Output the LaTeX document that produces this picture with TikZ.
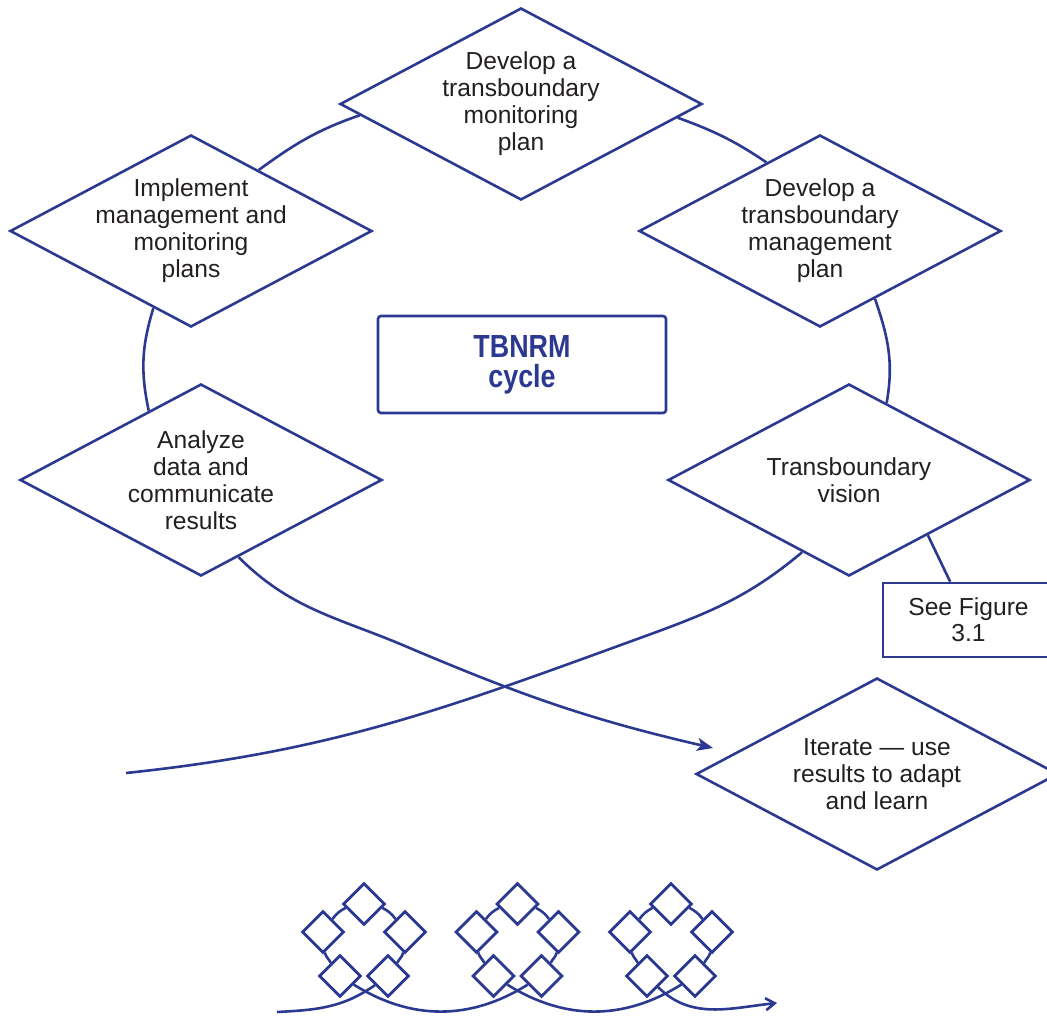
\documentclass[tikz,border=0pt]{standalone}
\usepackage{fontspec}
\setmainfont{Liberation Sans}
\newfontfamily\titlefont[FakeStretch=0.84]{Liberation Sans}
\usetikzlibrary{shapes,arrows.meta,positioning}
\definecolor{tbblue}{RGB}{43,57,144}
\definecolor{tbtext}{RGB}{35,31,32}
\tikzstyle{decision} = [diamond, draw=tbblue, line width=1.3pt, aspect=1.9,
    minimum width=181pt, minimum height=96pt, inner sep=-6pt,
    align=center, text=tbtext, font=\fontsize{12.3}{13.5}\selectfont]
\tikzstyle{block} = [rectangle, draw=tbblue, line width=1.3pt, rounded corners=1.5pt,
    minimum width=144pt, minimum height=48.5pt, align=center, text=tbblue,
    font=\titlefont\bfseries\fontsize{16}{15}\selectfont]
\tikzstyle{note} = [rectangle, draw=tbblue, line width=1.3pt, minimum width=85.5pt,
    minimum height=37pt, align=center, text=tbtext, font=\fontsize{12.3}{13}\selectfont]
\tikzstyle{tiny} = [diamond, draw=tbblue, line width=1.4pt, aspect=1,
    minimum width=21pt, minimum height=21pt, inner sep=0pt]
\tikzstyle{line} = [draw=tbblue, line width=1.3pt]
\tikzstyle{arrow} = [line, -{Stealth[length=8pt,width=6.5pt,inset=2pt]}]
\tikzstyle{openarrow} = [line, -{Straight Barb[length=4.5pt,width=6pt]}]

\begin{document}
\begin{tikzpicture}[x=0.5pt, y=0.5pt]
		\useasboundingbox (0,0) rectangle (1047,-1015);
		\clip (0,0) rectangle (1047,-1015);
		% Draw nodes
		\node [block] (cycle) at (522,-364.5) {TBNRM\\cycle};
		\node [decision] (monitor) at (521,-104) {Develop a\\transboundary\\monitoring\\plan};
		\node [decision] (implement) at (191,-231) {Implement\\management and\\monitoring\\plans};
		\node [decision] (manage) at (820,-231) {Develop a\\transboundary\\management\\plan};
		\node [decision] (analyze) at (201,-480) {Analyze\\data and\\communicate\\results};
		\node [decision] (vision) at (849,-480) {Transboundary\\vision};
		\node [decision] (iterate) at (877,-774) {Iterate — use\\results to adapt\\and learn};
		\node [note] (see) at (968.5,-620) {See Figure\\3.1};
		\coordinate (bend1) at (405,-646);
		\coordinate (adapt) at (713,-748);
		\coordinate (bend2) at (640,-638);
		\coordinate (tail) at (126,-773);
		% Draw lines connecting (arcs of the cycle)
		\path [line] (implement.42) to[out=36,in=199] (monitor.184);
		\path [line] (monitor.-5) to[out=-20,in=146] (manage.128);
		\path [line] (manage.-51) to[out=-71,in=80] (vision.64);
		\path [line] (analyze.127) to[out=102,in=253] (implement.244);
		\path [line] (vision.-35) -- (see);
		\path [arrow] (analyze.-64) to[out=-45,in=157] (bend1) to[out=-23,in=167] (adapt);
		\path [line] (vision.237) to[out=220,in=20] (bend2) to[out=200,in=6] (tail);
		% Small cycles
		\foreach \i/\x in {1/364,2/517.5,3/671} {
			\node [tiny] (t\i) at (\x,-904) {};
			\node [tiny] (l\i) at (\x-41,-932) {};
			\node [tiny] (r\i) at (\x+41,-932) {};
			\node [tiny] (bl\i) at (\x-24,-976) {};
			\node [tiny] (br\i) at (\x+24,-976) {};
			\path [line] (br\i.55) to[out=64,in=257] (r\i.-95);
			\path [line] (r\i.126) to[out=127,in=-27] (t\i.-12);
			\path [line] (t\i.192) to[out=207,in=53] (l\i.54);
			\path [line] (l\i.-85) to[out=283,in=116] (bl\i.125);
		}
		\coordinate (start) at (277,-1012);
		\coordinate (finish) at (777,-1003);
		\path [line] (start) to[out=3,in=-145] (br1);
		\path [line] (bl1) to[out=-32,in=-148] (br2);
		\path [line] (bl2) to[out=-32,in=-148] (br3);
		\path [openarrow] (bl3) to[out=-45,in=186] (finish);
	\end{tikzpicture}
\end{document}
